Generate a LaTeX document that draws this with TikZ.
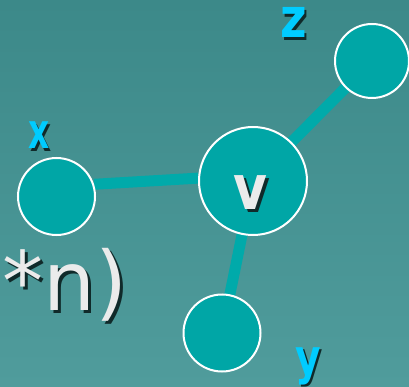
\documentclass[tikz,border=0pt]{standalone}
\usepackage{fontspec}
\setmainfont{DejaVu Sans}
\definecolor{bgtop}{HTML}{3C8989}
\definecolor{bgbot}{HTML}{509C9C}
\definecolor{nodefill}{HTML}{00A6A6}
\definecolor{edgecol}{HTML}{00AAAA}
\definecolor{labcol}{HTML}{00CCFF}
\definecolor{vtext}{HTML}{EBEBEB}
\definecolor{shadowcol}{HTML}{102A2A}
\newcommand{\shadowed}[2]{\rlap{\kern#1\raisebox{-#1}{\textcolor{shadowcol}{#2}}}#2}
\pgfdeclarelayer{bglayer}
\pgfdeclarelayer{edgelayer}
\pgfsetlayers{bglayer,edgelayer,main}
\tikzset{
  vert/.style={circle, draw=white, line width=2pt, fill=nodefill, inner sep=0pt},
  edge/.style={draw=edgecol, line width=11pt},
  lab/.style={text=labcol, font=\bfseries, inner sep=0pt, anchor=base}
}
\begin{document}
\begin{tikzpicture}[x=1pt,y=-1pt]
\useasboundingbox (0,0) rectangle (409,387);
\begin{pgfonlayer}{bglayer}
\shade[top color=bgtop, bottom color=bgbot] (0,0) rectangle (409,387);
\end{pgfonlayer}
\node[vert, minimum size=77pt] (x) at (56.5,196.5) {};
\node[vert, minimum size=108pt] (v) at (253,181) {};
\node[vert, minimum size=74pt] (z) at (372,61) {};
\node[vert, minimum size=77pt] (y) at (222,333) {};
\begin{pgfonlayer}{edgelayer}
\draw[edge] (x.18) -- (v.177);
\draw[edge] (v.center) -- (z.center);
\draw[edge] (v.center) -- (y.center);
\end{pgfonlayer}
\node[lab, font=\bfseries\fontsize{49}{49}\selectfont] (xl) at (39,149) {\scalebox{0.67}[1]{\shadowed{2.5pt}{x}}};
\node[lab, font=\bfseries\fontsize{55}{55}\selectfont] (zl) at (294,38) {\scalebox{0.83}[1]{\shadowed{2.5pt}{z}}};
\node[lab, font=\bfseries\fontsize{49}{49}\selectfont] (yl) at (308,374) {\scalebox{0.8}[1]{\shadowed{2.5pt}{y}}};
\node[lab, text=vtext, font=\bfseries\fontsize{62}{62}\selectfont] (vl) at (250.5,210) {\scalebox{0.84}[1]{\shadowed{3pt}{v}}};
\node[text=vtext, font=\fontsize{82}{82}\selectfont, inner sep=0pt, anchor=base west] (mn) at (2,310) {\shadowed{3.5pt}{*n)}};
\end{tikzpicture}
\end{document}
